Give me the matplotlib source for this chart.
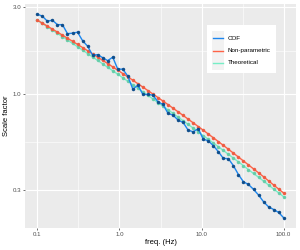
import matplotlib
matplotlib.use("Agg")
import matplotlib.pyplot as plt
import numpy as np
from matplotlib.patches import Rectangle
from matplotlib.lines import Line2D

# ---------------- data ----------------
freq = [0.1, 0.1151, 0.1326, 0.1526, 0.1758, 0.2024, 0.2330, 0.2683, 0.3089, 0.3556,
        0.4095, 0.4715, 0.5429, 0.6251, 0.7197, 0.8286, 0.9541, 1.0985, 1.2649, 1.4563,
        1.6768, 1.9307, 2.2230, 2.5595, 2.9471, 3.3932, 3.9069, 4.4984, 5.1795, 5.9636,
        6.8665, 7.9060, 9.1030, 10.481, 12.068, 13.895, 15.999, 18.421, 21.210, 24.421,
        28.118, 32.375, 37.276, 42.919, 49.417, 56.899, 65.513, 75.431, 86.851, 100.0]

cof = [2.747, 2.679, 2.515, 2.547, 2.407, 2.407, 2.149, 2.163, 2.190, 1.968,
       1.836, 1.640, 1.650, 1.589, 1.530, 1.599, 1.375, 1.375, 1.259, 1.069,
       1.124, 1.000, 1.000, 0.991, 0.911, 0.882, 0.788, 0.771, 0.724, 0.703,
       0.638, 0.625, 0.650, 0.570, 0.558, 0.525, 0.487, 0.447, 0.446, 0.408,
       0.365, 0.333, 0.322, 0.303, 0.282, 0.259, 0.243, 0.235, 0.2265, 0.2117]

nonparametric = [2.547, 2.454, 2.364, 2.277, 2.192, 2.110, 2.030, 1.953, 1.878, 1.805,
                 1.734, 1.666, 1.600, 1.536, 1.475, 1.415, 1.357, 1.301, 1.248, 1.196,
                 1.145, 1.097, 1.050, 1.005, 0.962, 0.920, 0.880, 0.841, 0.804, 0.768,
                 0.733, 0.700, 0.668, 0.638, 0.608, 0.580, 0.553, 0.527, 0.502, 0.478,
                 0.455, 0.433, 0.412, 0.392, 0.373, 0.355, 0.337, 0.320, 0.304, 0.289]

theoretical = [2.547, 2.444, 2.345, 2.249, 2.157, 2.069, 1.984, 1.902, 1.823, 1.747,
               1.673, 1.603, 1.535, 1.470, 1.408, 1.348, 1.290, 1.234, 1.181, 1.130,
               1.081, 1.033, 0.988, 0.945, 0.903, 0.863, 0.824, 0.788, 0.752, 0.718,
               0.686, 0.655, 0.625, 0.596, 0.569, 0.543, 0.518, 0.494, 0.471, 0.449,
               0.428, 0.408, 0.388, 0.370, 0.353, 0.336, 0.320, 0.304, 0.290, 0.276]

series_names = ["COF", "Non-parametric", "Theoretical"]
x_ticks = [0.1, 1.0, 10.0, 100.0]
x_tick_labels = ["0.1", "1.0", "10.0", "100.0"]
y_ticks = [0.3, 1.0, 3.0]
y_tick_labels = ["0.3", "1.0", "3.0"]
x_title = "freq. (Hz)"
y_title = "Scale factor"

# ---------------- style ----------------
plt.rcParams['font.family'] = ['Liberation Sans', 'DejaVu Sans']
line_cols = {"COF": "#1C86EE", "Non-parametric": "#FF6347", "Theoretical": "#76EEC6"}
pt_cols = {"COF": "#104E8B", "Non-parametric": "#EE5C42", "Theoretical": "#66CDAA"}
values = {"COF": cof, "Non-parametric": nonparametric, "Theoretical": theoretical}
zorders = {"COF": 4, "Non-parametric": 3, "Theoretical": 2}

W, H = 300, 250
fig = plt.figure(figsize=(W / 100, H / 100), dpi=100)
fig.patch.set_facecolor("white")
ax = fig.add_axes([25 / W, 1 - 228 / H, 271 / W, 224 / H])
ax.set_facecolor("#EBEBEB")
for s in ax.spines.values():
    s.set_visible(False)

ax.set_xscale("log")
ax.set_yscale("log")

for name in ["Theoretical", "Non-parametric", "COF"]:
    ax.plot(freq, values[name], color=line_cols[name], lw=1.0,
            zorder=zorders[name], solid_capstyle="round")
for name in ["Theoretical", "Non-parametric", "COF"]:
    ax.plot(freq, values[name], ls="none", marker="o", ms=2.5, mew=0,
            color=pt_cols[name], zorder=zorders[name] + 0.5)

# limits with ggplot-like 5% expansion in log space
lx = np.log10(freq)
xr = lx.max() - lx.min()
ax.set_xlim(10 ** (lx.min() - 0.05 * xr), 10 ** (lx.max() + 0.05 * xr))
ally = np.log10(np.concatenate([cof, nonparametric, theoretical]))
yr = ally.max() - ally.min()
ax.set_ylim(10 ** (ally.min() - 0.05 * yr), 10 ** (ally.max() + 0.05 * yr))

ax.set_xticks(x_ticks)
ax.set_xticklabels(x_tick_labels)
ax.set_yticks(y_ticks)
ax.set_yticklabels(y_tick_labels)

# minor breaks at log-midpoints of the majors
xm = [10 ** ((np.log10(a) + np.log10(b)) / 2) for a, b in zip(x_ticks[:-1], x_ticks[1:])]
ym = [10 ** ((np.log10(a) + np.log10(b)) / 2) for a, b in zip(y_ticks[:-1], y_ticks[1:])]
ax.set_xticks(xm, minor=True)
ax.set_yticks(ym, minor=True)
ax.xaxis.set_minor_formatter(matplotlib.ticker.NullFormatter())
ax.yaxis.set_minor_formatter(matplotlib.ticker.NullFormatter())

ax.grid(True, which="major", color="white", lw=0.8, zorder=0)
ax.grid(True, which="minor", color="white", lw=0.4, zorder=0)
ax.set_axisbelow(True)

ax.tick_params(which="major", length=1.6, width=0.5, color="#333333",
               labelsize=4.4, labelcolor="#4D4D4D", pad=1.2)
ax.tick_params(which="minor", length=0)

ax.set_xlabel(x_title, fontsize=5.5, labelpad=1.5)
ax.set_ylabel(y_title, fontsize=5.5, labelpad=1.5)

# ---------------- legend (ggplot-like) ----------------
def fx(px):
    return px / W

def fy(py):
    return 1 - py / H

fig.patches.append(Rectangle((fx(206.5), fy(73)), (276 - 206.5) / W, (73 - 25) / H,
                             transform=fig.transFigure, facecolor="white",
                             edgecolor="none", zorder=10))
fig.patches.append(Rectangle((fx(211.5), fy(69.5)), (223.5 - 211.5) / W, (69.5 - 31.5) / H,
                             transform=fig.transFigure, facecolor="#F2F2F2",
                             edgecolor="none", zorder=11))
rows = [38.3, 50.5, 62.5]
for name, ry in zip(series_names, rows):
    fig.lines.append(Line2D([fx(212.5), fx(222.5)], [fy(ry), fy(ry)],
                            transform=fig.transFigure, color=line_cols[name],
                            lw=1.0, zorder=12))
    fig.text(fx(227.5), fy(ry), name, fontsize=4.5, ha="left", va="center",
             color="black", zorder=12)

fig.savefig("out.png", dpi=100)
